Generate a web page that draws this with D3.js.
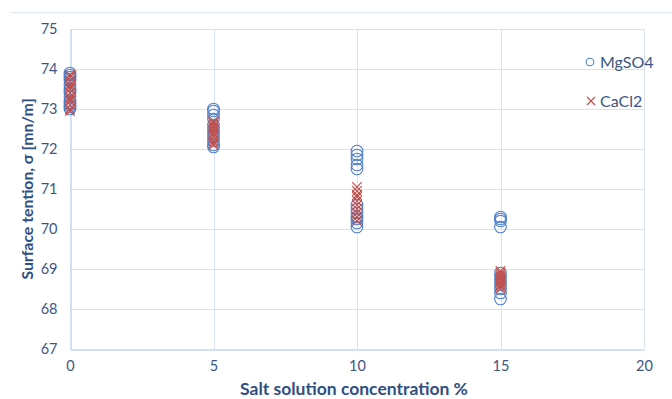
<!DOCTYPE html>
<html><head><meta charset="utf-8">
<script src="https://cdn.jsdelivr.net/npm/d3@7"></script>
<style>body{margin:0;background:#fff}svg{display:block}text{font-family:Lato,"Open Sans",sans-serif}</style>
</head><body><svg id="c" width="672" height="399"></svg>
<script>
const xTicks=[0,5,10,15,20];
const yTicks=[67,68,69,70,71,72,73,74,75];
const concentrations=[0,5,10,15];
const mgso4=[
 [73.9,73.85,73.8,73.75,73.7,73.6,73.5,73.45,73.4,73.3,73.2,73.15,73.1,73.05,73.0],
 [73.0,72.95,72.85,72.75,72.6,72.5,72.4,72.3,72.2,72.1,72.05],
 [71.95,71.85,71.75,71.6,71.5,70.6,70.5,70.4,70.3,70.25,70.15,70.05],
 [70.3,70.25,70.2,70.05,68.9,68.8,68.7,68.6,68.5,68.4,68.25]
];
const cacl2=[
 [73.85,73.8,73.7,73.6,73.55,73.5,73.4,73.3,73.25,73.2,73.1,73.0,72.95],
 [72.7,72.65,72.6,72.55,72.5,72.45,72.4,72.35,72.3,72.2,72.15,72.1],
 [71.05,70.95,70.85,70.8,70.7,70.6,70.5,70.4,70.3,70.2],
 [68.95,68.9,68.85,68.8,68.75,68.7,68.65,68.6,68.55,68.5]
];
const seriesNames=["MgSO4","CaCl2"];

const svg=d3.select("#c");
const L=70,R=644,T=29,B=349;
const x=d3.scaleLinear().domain([0,20]).range([L,R]);
const y=d3.scaleLinear().domain([67,75]).range([B,T]);
const blue="#4f7fc8", red="#c0504d", txt="#3b5684", grid="#d9e2f0";

svg.append("line").attr("x1",11).attr("x2",672).attr("y1",12.5).attr("y2",12.5).attr("stroke","#dce6f4");

svg.append("g").selectAll("line").data(yTicks.slice(1)).join("line")
 .attr("x1",L).attr("x2",R).attr("y1",d=>Math.round(y(d))+0.5).attr("y2",d=>Math.round(y(d))+0.5)
 .attr("stroke",grid);
svg.append("g").selectAll("line").data(xTicks.slice(1)).join("line")
 .attr("y1",T).attr("y2",B).attr("x1",d=>Math.round(x(d))+0.5).attr("x2",d=>Math.round(x(d))+0.5)
 .attr("stroke",grid);

const ya=svg.append("g").attr("transform",`translate(${L+0.5},0)`).call(d3.axisLeft(y).tickValues(yTicks).tickSize(0).tickPadding(13).tickFormat(d3.format("d")));
ya.select(".domain").attr("stroke","#a9c1e6");
ya.selectAll("text").attr("fill",txt).attr("font-size",14.5);
const xa=svg.append("g").attr("transform",`translate(0,${B+0.5})`).call(d3.axisBottom(x).tickValues(xTicks).tickSize(0).tickPadding(11).tickFormat(d3.format("d")));
xa.select(".domain").attr("stroke","#a9c1e6");
xa.selectAll("text").attr("fill",txt).attr("font-size",14.5);

const pts=(arr)=>arr.flatMap((vals,i)=>vals.map(v=>({x:concentrations[i],y:v})));
svg.append("g").selectAll("circle").data(pts(mgso4)).join("circle")
 .attr("cx",d=>x(d.x)).attr("cy",d=>y(d.y)).attr("r",5.8)
 .attr("fill","none").attr("stroke",blue).attr("stroke-width",1.1);
const s=4.8;
svg.append("g").selectAll("path").data(pts(cacl2)).join("path")
 .attr("d",d=>{const cx=x(d.x),cy=y(d.y);return `M${cx-s},${cy-s}L${cx+s},${cy+s}M${cx-s},${cy+s}L${cx+s},${cy-s}`;})
 .attr("stroke",red).attr("stroke-width",1.2).attr("fill","none");

// legend
const lg=svg.append("g");
lg.append("circle").attr("cx",590).attr("cy",62).attr("r",3.8).attr("fill","none").attr("stroke",blue).attr("stroke-width",1.1);
lg.append("path").attr("d","M587,97L595,105M587,105L595,97").attr("stroke",red).attr("stroke-width",1.2);
lg.append("text").attr("x",600).attr("y",67.5).text(seriesNames[0]).attr("fill",txt).attr("font-size",16);
lg.append("text").attr("x",600).attr("y",106.5).text(seriesNames[1]).attr("fill",txt).attr("font-size",16);

svg.append("text").attr("x",354).attr("y",395).attr("text-anchor","middle").attr("font-weight","bold").attr("font-size",17.5).attr("fill","#2f4f80").text("Salt solution concentration %");
svg.append("text").attr("transform","translate(32.5,189) rotate(-90)").attr("text-anchor","middle").attr("font-weight","bold").attr("font-size",15.8).attr("fill","#2f4f80").text("Surface tention, σ [mn/m]");
</script></body></html>
